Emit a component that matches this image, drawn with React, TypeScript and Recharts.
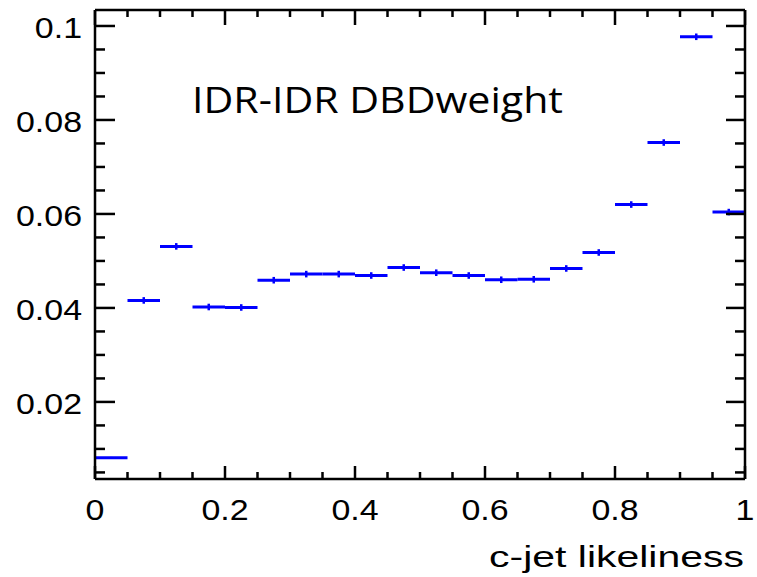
import React from "react";
import { ComposedChart, Scatter, XAxis, YAxis, ErrorBar, Label } from "recharts";

const binCenters = [0.025, 0.075, 0.125, 0.175, 0.225, 0.275, 0.325, 0.375, 0.425, 0.475, 0.525, 0.575, 0.625, 0.675, 0.725, 0.775, 0.825, 0.875, 0.925, 0.975];
const binValues = [0.0081, 0.0416, 0.0531, 0.0402, 0.0401, 0.0459, 0.0472, 0.0472, 0.0469, 0.0486, 0.0475, 0.0469, 0.046, 0.0461, 0.0484, 0.0518, 0.062, 0.0752, 0.0977, 0.0604];
const binHalfWidth = [0.025, 0.025, 0.025, 0.025, 0.025, 0.025, 0.025, 0.025, 0.025, 0.025, 0.025, 0.025, 0.025, 0.025, 0.025, 0.025, 0.025, 0.025, 0.025, 0.025];
const valueErrors = [0.0002, 0.0007, 0.0007, 0.0007, 0.0007, 0.0007, 0.0007, 0.0007, 0.0007, 0.0007, 0.0007, 0.0007, 0.0007, 0.0007, 0.0007, 0.0007, 0.0007, 0.0007, 0.0007, 0.0007];

const xMinorTicks = [0, 0.05, 0.1, 0.15, 0.2, 0.25, 0.3, 0.35, 0.4, 0.45, 0.5, 0.55, 0.6, 0.65, 0.7, 0.75, 0.8, 0.85, 0.9, 0.95, 1];
const xMajorTicks = [0, 0.2, 0.4, 0.6, 0.8, 1];
const xMajorLabels = ["0", "0.2", "0.4", "0.6", "0.8", "1"];
const yMinorTicks = [0.005, 0.01, 0.015, 0.02, 0.025, 0.03, 0.035, 0.04, 0.045, 0.05, 0.055, 0.06, 0.065, 0.07, 0.075, 0.08, 0.085, 0.09, 0.095, 0.1];
const yMajorTicks = [0.02, 0.04, 0.06, 0.08, 0.1];
const yMajorLabels = ["0.02", "0.04", "0.06", "0.08", "0.1"];

const xDomain = [0, 1];
const yDomain = [0.0036, 0.1034];

const data = binCenters.map((x, i) => ({ x, y: binValues[i], xerr: binHalfWidth[i], yerr: valueErrors[i] }));

const majorIndex = (v: number, majors: number[]) => majors.findIndex((m) => Math.abs(m - v) < 1e-9);

const TICK_FONT = "'Liberation Sans', Arial, Helvetica, sans-serif";
const AXIS_W = 2.5;

const BottomTick = (props: any) => {
  const { x, y, payload } = props;
  const mi = majorIndex(payload.value, xMajorTicks);
  const major = mi >= 0;
  return (
    <g>
      <line x1={x} x2={x} y1={y} y2={y - (major ? 13 : 7)} stroke="#000" strokeWidth={AXIS_W} />
      {major && (
        <text transform={`translate(${x},${y + 41}) scale(1.17,1)`} textAnchor="middle" fontFamily={TICK_FONT} fontSize={29} fill="#000">
          {xMajorLabels[mi]}
        </text>
      )}
    </g>
  );
};

const TopTick = (props: any) => {
  const { x, y, payload } = props;
  const major = majorIndex(payload.value, xMajorTicks) >= 0;
  return <line x1={x} x2={x} y1={y} y2={y + (major ? 15 : 7)} stroke="#000" strokeWidth={AXIS_W} />;
};

const LeftTick = (props: any) => {
  const { x, y, payload } = props;
  const mi = majorIndex(payload.value, yMajorTicks);
  const major = mi >= 0;
  return (
    <g>
      <line x1={x} x2={x + (major ? 20 : 10)} y1={y} y2={y} stroke="#000" strokeWidth={AXIS_W} />
      {major && (
        <text transform={`translate(${x - 13},${y + 12}) scale(1.17,1)`} textAnchor="end" fontFamily={TICK_FONT} fontSize={29} fill="#000">
          {yMajorLabels[mi]}
        </text>
      )}
    </g>
  );
};

const RightTick = (props: any) => {
  const { x, y, payload } = props;
  const major = majorIndex(payload.value, yMajorTicks) >= 0;
  return <line x1={x} x2={x - (major ? 19 : 10)} y1={y} y2={y} stroke="#000" strokeWidth={AXIS_W} />;
};

const AxisTitle = (props: any) => {
  const vb = props.viewBox || { x: 95, y: 479, width: 650, height: 98 };
  return (
    <text x={vb.x + vb.width - 1} y={vb.y + 88} textAnchor="end" fontFamily={TICK_FONT} fontSize={30} fill="#000" textLength={255} lengthAdjust="spacingAndGlyphs">
      c-jet likeliness
    </text>
  );
};

const NoPoint = () => <g />;

export default function App() {
  return (
    <div style={{ position: "absolute", left: 0, top: 0, width: 757, height: 577, background: "#fff" }}>
      <ComposedChart width={757} height={577} data={data} margin={{ top: 0, right: 0, bottom: 0, left: 0 }}>
        <XAxis xAxisId="b" dataKey="x" type="number" domain={xDomain} allowDataOverflow ticks={xMinorTicks} interval={0} tickSize={0} tickMargin={0} height={98} tick={<BottomTick />} axisLine={{ stroke: "#000", strokeWidth: AXIS_W }} tickLine={false}>
          <Label content={<AxisTitle />} />
        </XAxis>
        <XAxis xAxisId="t" orientation="top" dataKey="x" type="number" domain={xDomain} allowDataOverflow ticks={xMinorTicks} interval={0} tickSize={0} tickMargin={0} height={10} tick={<TopTick />} axisLine={{ stroke: "#000", strokeWidth: AXIS_W }} tickLine={false} />
        <YAxis yAxisId="l" dataKey="y" type="number" domain={yDomain} allowDataOverflow ticks={yMinorTicks} interval={0} tickSize={0} tickMargin={0} width={95} tick={<LeftTick />} axisLine={{ stroke: "#000", strokeWidth: AXIS_W }} tickLine={false} />
        <YAxis yAxisId="r" orientation="right" dataKey="y" type="number" domain={yDomain} allowDataOverflow ticks={yMinorTicks} interval={0} tickSize={0} tickMargin={0} width={12} tick={<RightTick />} axisLine={{ stroke: "#000", strokeWidth: AXIS_W }} tickLine={false} />
        <Scatter xAxisId="b" yAxisId="l" data={data} dataKey="y" shape={<NoPoint />} isAnimationActive={false}>
          <ErrorBar dataKey="yerr" direction="y" width={0} stroke="#0000ff" strokeWidth={2.5} isAnimationActive={false} />
          <ErrorBar dataKey="xerr" direction="x" width={0} stroke="#0000ff" strokeWidth={3} isAnimationActive={false} />
        </Scatter>
        <Scatter xAxisId="t" yAxisId="r" data={data} dataKey="y" shape={<NoPoint />} isAnimationActive={false} />
      </ComposedChart>
      <svg width={757} height={577} style={{ position: "absolute", left: 0, top: 0, pointerEvents: "none" }}>
        <text x={192} y={113} fontFamily="'Open Sans', 'Noto Sans', sans-serif" fontSize={37} fill="#000" textLength={371} lengthAdjust="spacingAndGlyphs">
          IDR-IDR DBDweight
        </text>
      </svg>
    </div>
  );
}
